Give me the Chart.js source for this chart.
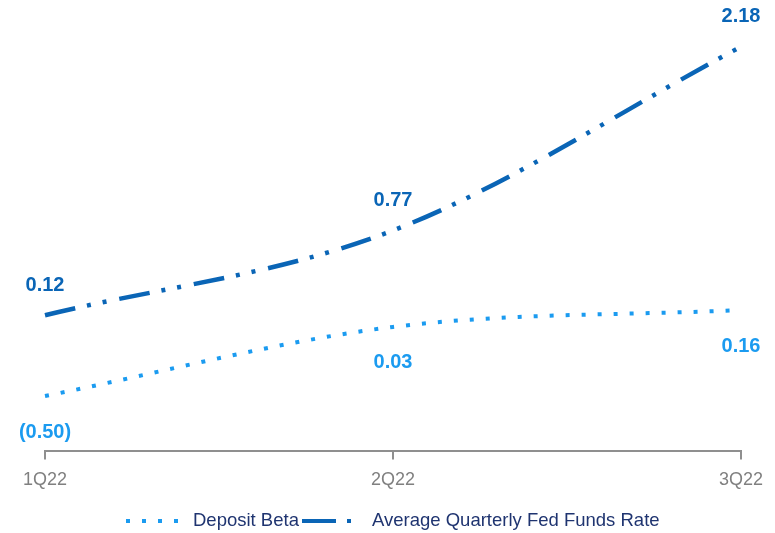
<!DOCTYPE html>
<html>
<head>
<meta charset="utf-8">
<script src="https://cdn.jsdelivr.net/npm/chart.js@4.4.0/dist/chart.umd.min.js"></script>
<style>
  html, body { margin: 0; padding: 0; background: #ffffff; }
  #wrap { width: 775px; height: 533px; }
</style>
</head>
<body>
<div id="wrap"><canvas id="c" width="775" height="533"></canvas></div>
<script>
// Quarterly categories and series values
const quarters = ['1Q22', '2Q22', '3Q22'];
const depositBeta = [-0.50, 0.03, 0.16];
const fedFundsRate = [0.12, 0.77, 2.18];
const seriesNames = ['Deposit Beta', 'Average Quarterly Fed Funds Rate'];

const DEPOSIT_COLOR = '#1b9bf0';
const FED_COLOR = '#0a65b6';
const LEGEND_TEXT = '#1f3470';
const AXIS_COLOR = '#8f8f8f';
const FONT = '"Liberation Sans", Arial, sans-serif';

const DEPOSIT_DASH = [4, 12];
const FED_DASH = [31, 12, 4, 12, 4, 13];

function fmt(v) {
  const s = Math.abs(v).toFixed(2);
  return v < 0 ? '(' + s + ')' : s;
}

// Value labels: above the fed funds line, below the deposit beta line
const valueLabels = {
  id: 'valueLabels',
  afterDatasetsDraw(chart) {
    const ctx = chart.ctx;
    ctx.save();
    ctx.font = 'bold 20px ' + FONT;
    ctx.textAlign = 'center';
    ctx.textBaseline = 'middle';
    chart.data.datasets.forEach((ds, i) => {
      const meta = chart.getDatasetMeta(i);
      meta.data.forEach((pt, j) => {
        const v = ds.data[j];
        ctx.fillStyle = ds.labelColor;
        ctx.fillText(fmt(v), pt.x, pt.y + ds.labelOffset);
      });
    });
    ctx.restore();
  }
};

// Legend row with dashed line samples
const lineLegend = {
  id: 'lineLegend',
  afterDraw(chart) {
    const ctx = chart.ctx;
    const y = 521;
    ctx.save();
    ctx.font = '18.5px ' + FONT;
    ctx.textBaseline = 'middle';
    ctx.textAlign = 'left';

    // Deposit Beta sample
    ctx.strokeStyle = DEPOSIT_COLOR;
    ctx.lineWidth = 4;
    ctx.lineCap = 'butt';
    ctx.setLineDash(DEPOSIT_DASH);
    ctx.beginPath();
    ctx.moveTo(126, y);
    ctx.lineTo(182, y);
    ctx.stroke();
    ctx.fillStyle = LEGEND_TEXT;
    ctx.fillText(seriesNames[0], 193, y);

    // Fed funds sample
    const x = 302;
    ctx.strokeStyle = FED_COLOR;
    ctx.setLineDash([34, 11, 4, 100]);
    ctx.beginPath();
    ctx.moveTo(x, y);
    ctx.lineTo(x + 49, y);
    ctx.stroke();
    ctx.setLineDash([]);
    ctx.fillStyle = LEGEND_TEXT;
    ctx.fillText(seriesNames[1], 372, y);
    ctx.restore();
  }
};

new Chart(document.getElementById('c'), {
  type: 'line',
  data: {
    labels: quarters,
    datasets: [
      {
        label: seriesNames[0],
        data: depositBeta,
        borderColor: DEPOSIT_COLOR,
        borderWidth: 4,
        borderDash: DEPOSIT_DASH,
        borderCapStyle: 'butt',
        cubicInterpolationMode: 'monotone',
        pointRadius: 0,
        fill: false,
        labelColor: DEPOSIT_COLOR,
        labelOffset: 36
      },
      {
        label: seriesNames[1],
        data: fedFundsRate,
        borderColor: FED_COLOR,
        borderWidth: 4.5,
        borderDash: FED_DASH,
        borderCapStyle: 'butt',
        cubicInterpolationMode: 'monotone',
        pointRadius: 0,
        fill: false,
        labelColor: FED_COLOR,
        labelOffset: -30
      }
    ]
  },
  options: {
    responsive: false,
    animation: false,
    layout: { padding: { left: 45, right: 34, top: 5, bottom: 32 } },
    plugins: {
      legend: { display: false },
      tooltip: { enabled: false }
    },
    scales: {
      x: {
        offset: false,
        grid: {
          display: true,
          drawOnChartArea: false,
          drawTicks: true,
          tickLength: 8,
          color: AXIS_COLOR,
          lineWidth: 2
        },
        border: { color: AXIS_COLOR, width: 2 },
        ticks: {
          color: '#808080',
          font: { family: FONT, size: 18 },
          padding: 10,
          maxRotation: 0,
          autoSkip: false
        }
      },
      y: {
        display: false,
        min: -0.925,
        max: 2.5
      }
    }
  },
  plugins: [valueLabels, lineLegend]
});
</script>
</body>
</html>
